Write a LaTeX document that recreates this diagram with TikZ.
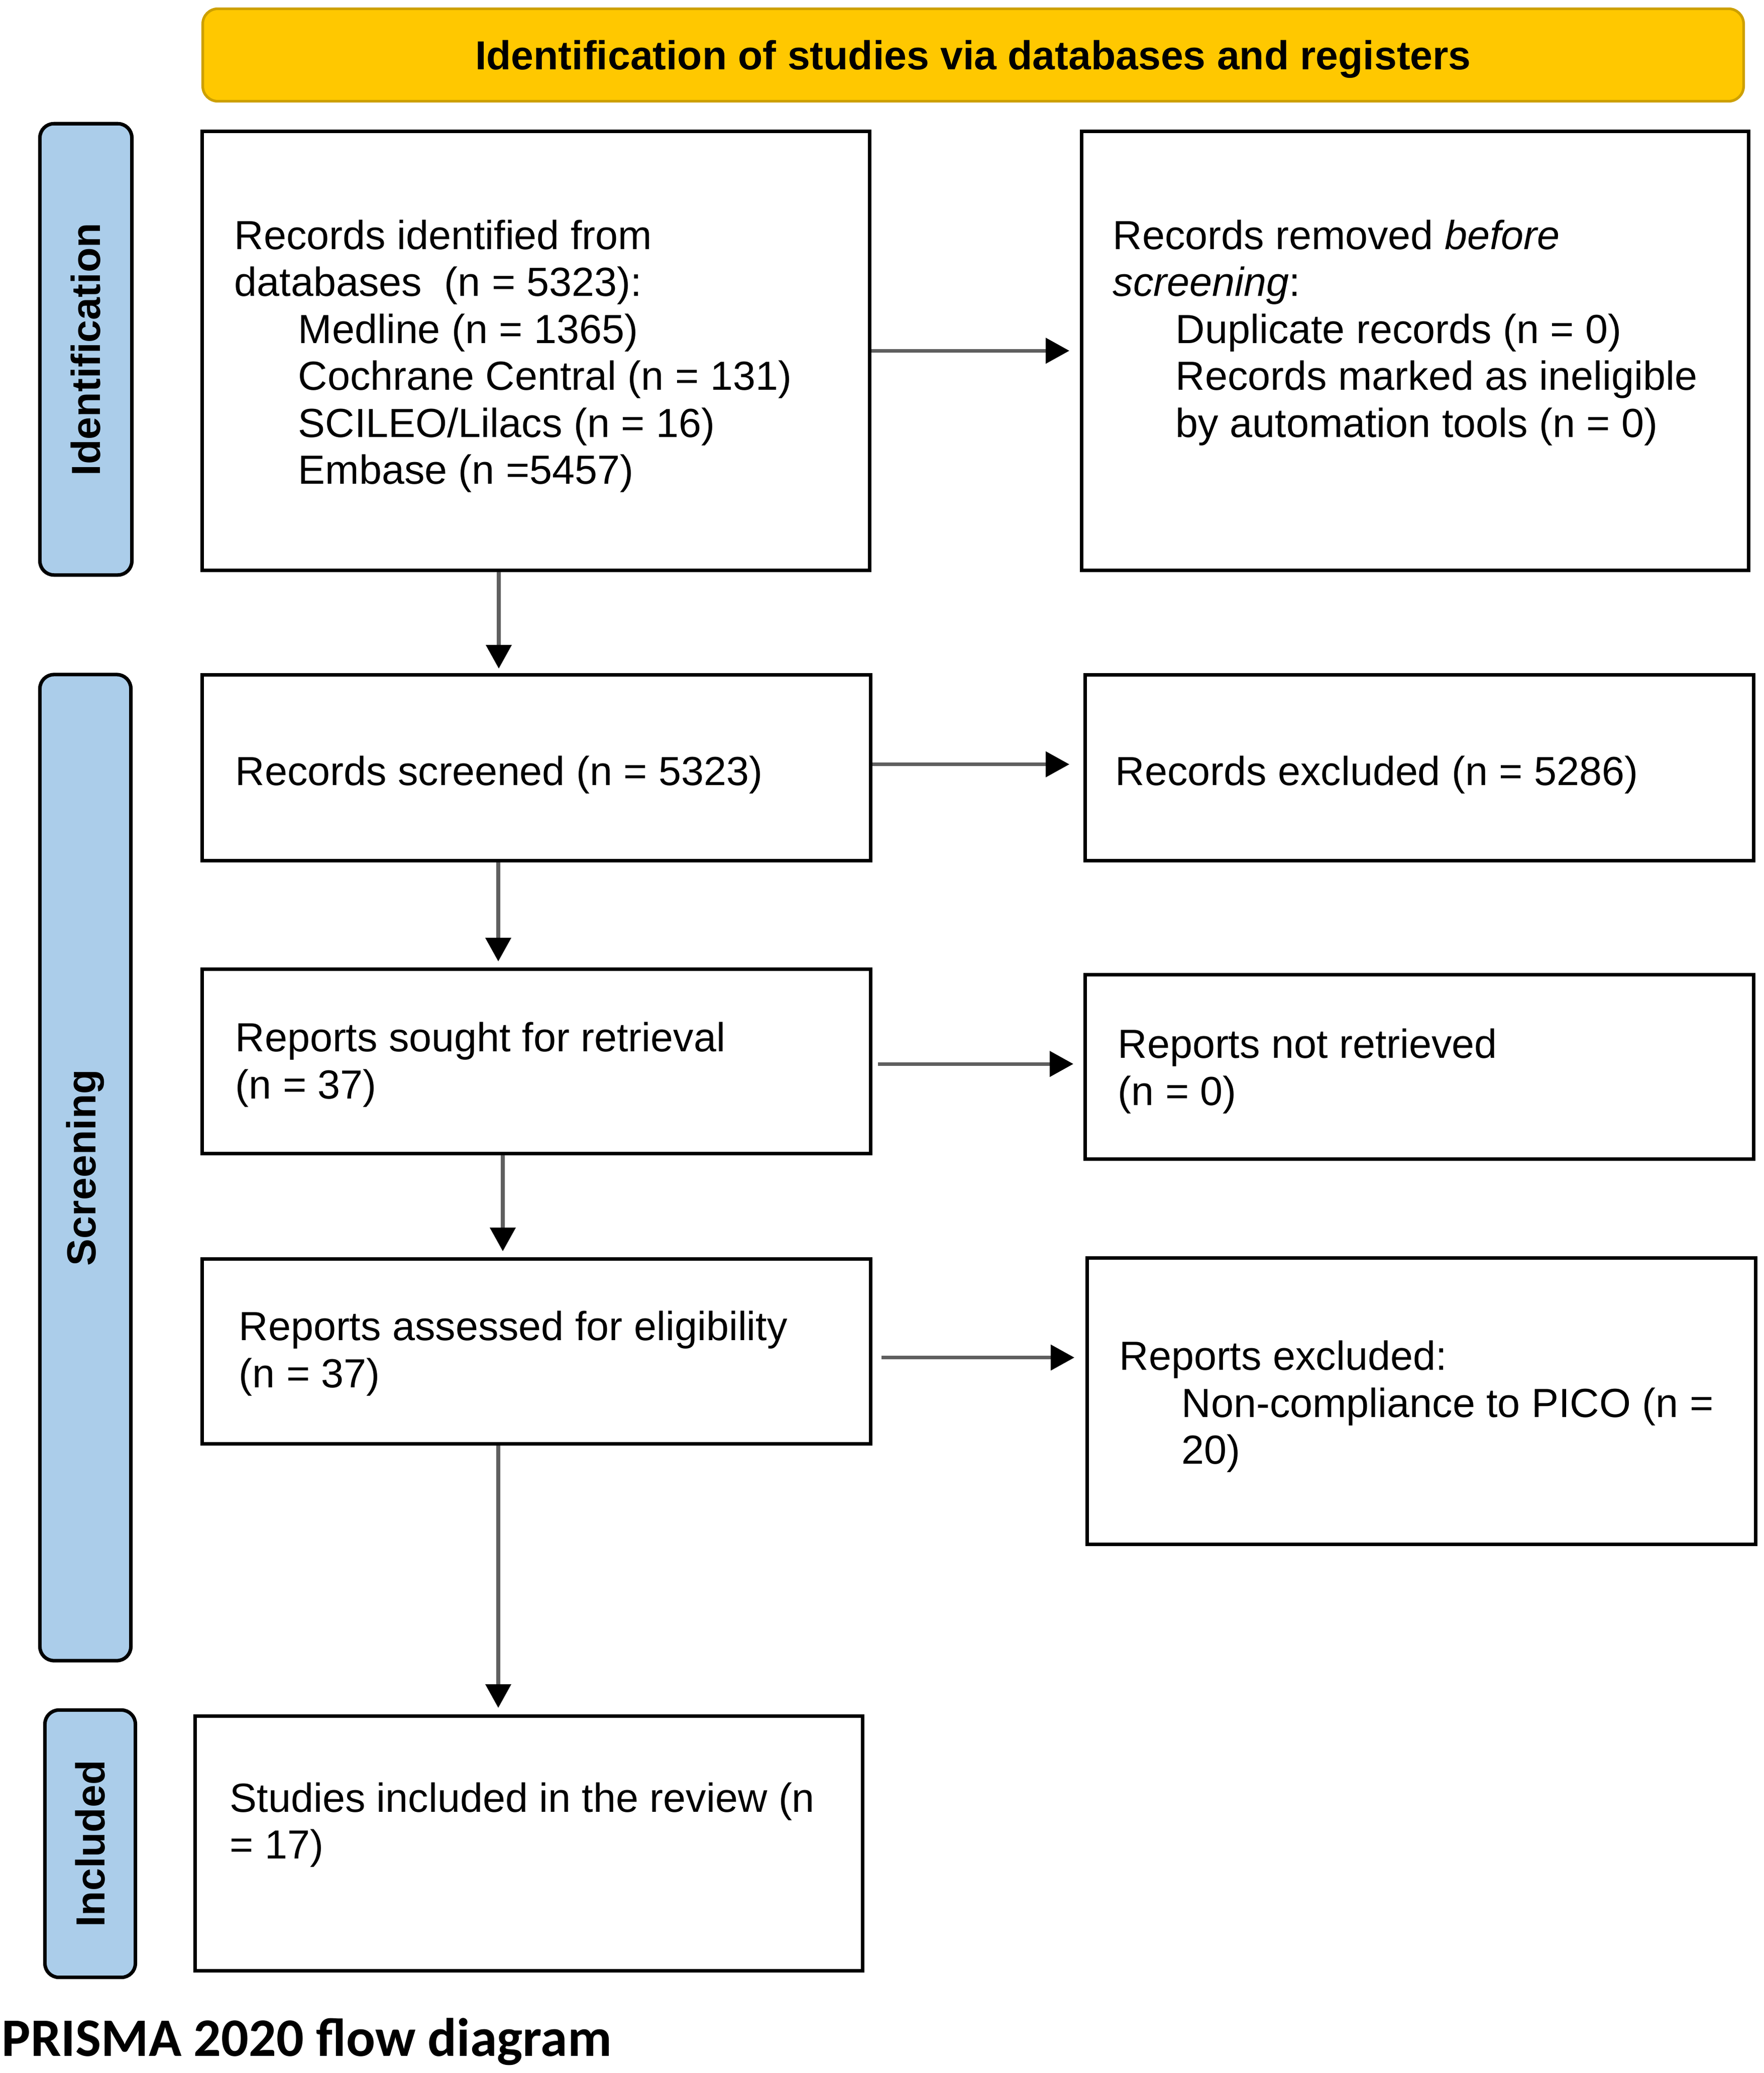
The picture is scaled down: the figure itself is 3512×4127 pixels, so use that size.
\documentclass[tikz,border=0pt]{standalone}
\usepackage{fontspec}
\setmainfont{Liberation Sans}
\newfontfamily\capfont{Carlito}
\usetikzlibrary{arrows.meta,calc}
\definecolor{gold}{RGB}{255,200,0}
\definecolor{goldline}{RGB}{205,160,0}
\definecolor{phaseblue}{RGB}{171,205,234}
\definecolor{arrowgray}{RGB}{95,95,95}
\begin{document}
\begin{tikzpicture}[x=0.01cm,y=-0.01cm,
  flowbox/.style={draw=black, line width=2pt, fill=white, rectangle, inner sep=0pt, anchor=north west},
  flowtext/.style={anchor=north west, inner sep=0pt, align=left, font=\fontsize{23}{26.6}\selectfont},
  phase/.style={draw=black, line width=2pt, fill=phaseblue, rounded corners=0.28cm, inner sep=0pt, rotate=90, font=\fontsize{23}{26}\selectfont\bfseries},
  banner/.style={draw=goldline, line width=1.5pt, fill=gold, rounded corners=0.3cm, inner sep=0pt, text depth=0pt, font=\fontsize{22.9}{26}\selectfont\bfseries},
  arr/.style={draw=arrowgray, line width=2pt, -{Triangle[length=0.47cm,width=0.5cm,color=black]}}
]
\useasboundingbox (0,0) rectangle (3512,4127);

% banner
\node[banner, minimum width=30.66cm, minimum height=1.84cm] (ban) at (1937.5,109.5) {Identification of studies via databases and registers};

% phase labels
\node[phase, minimum width=8.98cm, minimum height=1.83cm] (ph1) at (171,695.5) {Identification};
\node[phase, minimum width=19.62cm, minimum height=1.81cm] (ph2) at (170,2324.5) {Screening};
\node[phase, minimum width=5.32cm, minimum height=1.80cm] (ph3) at (179.5,3670.5) {Included};

% boxes
\node[flowbox, minimum width=13.28cm, minimum height=8.73cm] (b1) at (399,258) {};
\node[flowbox, minimum width=13.27cm, minimum height=8.73cm] (b2) at (2150,258) {};
\node[flowbox, minimum width=13.30cm, minimum height=3.70cm] (b3) at (399,1340) {};
\node[flowbox, minimum width=13.30cm, minimum height=3.70cm] (b4) at (2157,1340) {};
\node[flowbox, minimum width=13.30cm, minimum height=3.67cm] (b5) at (399,1926) {};
\node[flowbox, minimum width=13.30cm, minimum height=3.67cm] (b6) at (2157,1937) {};
\node[flowbox, minimum width=13.30cm, minimum height=3.68cm] (b7) at (399,2503) {};
\node[flowbox, minimum width=13.30cm, minimum height=5.70cm] (b8) at (2161,2501) {};
\node[flowbox, minimum width=13.28cm, minimum height=5.07cm] (b9) at (385,3413) {};

% texts
\node[flowtext] (t1) at (466,430) {\strut Records identified from\\
databases~ (n = 5323):\\
\hspace*{1.27cm}Medline (n = 1365)\\
\hspace*{1.27cm}Cochrane Central (n = 131)\\
\hspace*{1.27cm}SCILEO/Lilacs (n = 16)\\
\hspace*{1.27cm}Embase (n =5457)};
\node[flowtext] (t2) at (2215,430) {\strut Records removed \textit{before}\\
\textit{screening}:\\
\hspace*{1.25cm}Duplicate records (n = 0)\\
\hspace*{1.25cm}Records marked as ineligible\\
\hspace*{1.25cm}by automation tools (n = 0)};
\node[flowtext] (t3) at (468,1497.5) {\strut Records screened (n = 5323)};
\node[flowtext] (t4) at (2220,1497.5) {\strut Records excluded (n = 5286)};
\node[flowtext] (t5) at (468,2027.5) {\strut Reports sought for retrieval\\(n = 37)};
\node[flowtext] (t6) at (2225,2040.5) {\strut Reports not retrieved\\(n = 0)};
\node[flowtext] (t7) at (475,2602.5) {\strut Reports assessed for eligibility\\(n = 37)};
\node[flowtext] (t8) at (2228,2661.5) {\strut Reports excluded:\\
\hspace*{1.24cm}Non-compliance to PICO (n =\\
\hspace*{1.24cm}20)};
\node[flowtext] (t9) at (457,3541) {\strut Studies included in the review (n\\= 17)};

% caption
\node[anchor=base west, inner sep=0pt, font=\capfont\bfseries\fontsize{30.7}{36}\selectfont] (cap) at (3,4093) {PRISMA 2020 flow diagram};

% horizontal arrows
\draw[arr, shorten >=0.21cm] (b1.east) -- (b1.east -| b2.west);
\coordinate (a34) at ([yshift=0.07cm]b3.east);
\draw[arr, shorten >=0.28cm] (a34) -- (a34 -| b4.west);
\coordinate (a56) at ([yshift=-0.05cm]b5.east);
\draw[arr, shorten <=0.11cm, shorten >=0.2cm] (a56) -- (a56 -| b6.west);
\coordinate (a78) at ([yshift=-0.12cm]b7.east);
\draw[arr, shorten <=0.18cm, shorten >=0.22cm] (a78) -- (a78 -| b8.west);

% vertical arrows
\coordinate (v13) at (993,0);
\coordinate (v35) at (992,0);
\coordinate (v57) at (1001,0);
\coordinate (v79) at (992,0);
\draw[arr, shorten >=0.09cm] (b1.south -| v13) -- (b3.north -| v13);
\draw[arr, shorten >=0.12cm] (b3.south -| v35) -- (b5.north -| v35);
\draw[arr, shorten >=0.12cm] (b5.south -| v57) -- (b7.north -| v57);
\draw[arr, shorten >=0.13cm] (b7.south -| v79) -- (b9.north -| v79);
\end{tikzpicture}
\end{document}
